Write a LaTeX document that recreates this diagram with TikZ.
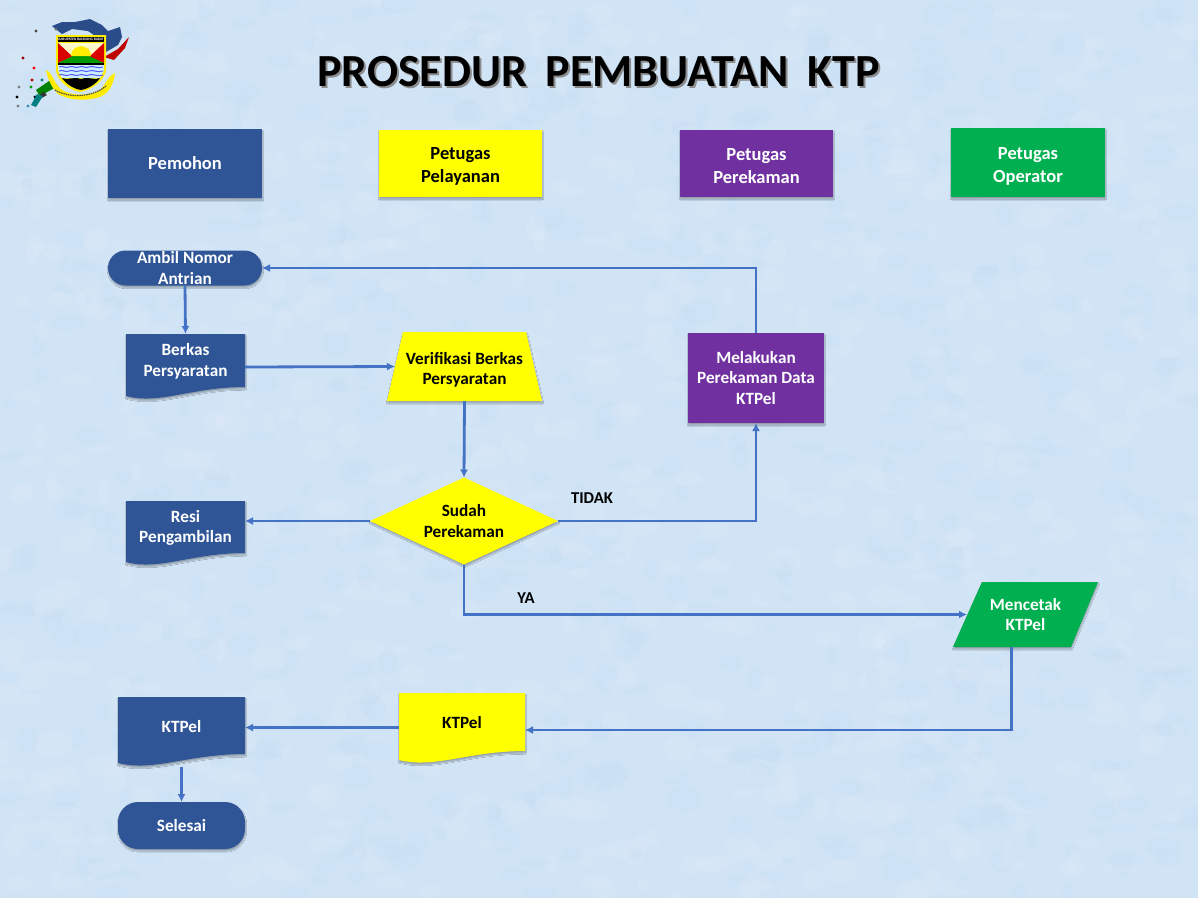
\documentclass[tikz,border=0pt]{standalone}
\usepackage{fontspec}
\setmainfont{Carlito}
\usetikzlibrary{arrows.meta,shadows.blur}
\usetikzlibrary{shapes.geometric,shapes.misc}
\definecolor{pageblue}{HTML}{D1E4F6}
\definecolor{boxblue}{HTML}{2F5597}
\definecolor{boxyellow}{HTML}{FFFF00}
\definecolor{boxpurple}{HTML}{7030A0}
\definecolor{boxgreen}{HTML}{00B050}
\definecolor{linkblue}{HTML}{4472C4}
\definecolor{mottle}{HTML}{B4D2F0}
\tikzset{
  softshadow/.style={blur shadow={shadow xshift=.5pt,shadow yshift=-2pt,shadow blur radius=1.2pt,shadow blur steps=5,shadow opacity=30}},
  label/.style={font=\fontsize{17.2}{20.5}\selectfont\bfseries,align=center,inner sep=0pt,outer sep=0pt},
  whitelabel/.style={label,text=white},
  blacklabel/.style={label,text=black},
  lanelabel/.style={font=\fontsize{18.5}{23}\selectfont\bfseries},
  flowbox/.style={rectangle,minimum width=#1,softshadow},
  blank/.style={inner sep=0pt,outer sep=0pt},
  link/.style={draw=linkblue,line width=2.8pt,-{Latex[length=8pt,width=8pt]}},
}
% wave-bottomed sheet: name, centre, width, height, fill, label style, text
\newcommand{\sheet}[7]{
  \node[blank,minimum width=#3pt,minimum height=#4pt] (#1) at (#2) {};
  \fill[#5,softshadow] (#1.north west) -- (#1.north east) -- ([yshift=13pt]#1.south east)
    .. controls ([xshift=-.45*#3 pt,yshift=13pt]#1.south east) and ([xshift=.28*#3 pt,yshift=-5pt]#1.south west)
    .. ([yshift=4pt]#1.south west) -- cycle;
  \node[#6] (#1text) at ([yshift=5.5pt]#1.center) {#7};
}
\newcommand{\lift}{\rule{0pt}{17pt}}
\begin{document}
\begin{tikzpicture}[x=1pt,y=-1pt]
\useasboundingbox (0,0) rectangle (1198,898);
\fill[pageblue] (0,0) rectangle (1198,898);
\pgfmathsetseed{41}
\foreach \i in {1,...,1300} {
  \pgfmathsetmacro{\bx}{rnd*1198}
  \pgfmathsetmacro{\by}{rnd*898}
  \pgfmathsetmacro{\bw}{5+rnd*14}
  \pgfmathsetmacro{\bh}{4+rnd*10}
  \pgfmathparse{rnd>.5 ? "white" : "mottle"}
  \fill[\pgfmathresult,opacity=.07] (\bx,\by) ellipse ({\bw} and {\bh});
}

% emblem
\fill[boxblue!90!black] (52,26) -- (62,22) -- (75,22) -- (90,19) -- (102,25) -- (108,31) -- (120,27) -- (122,37) -- (118,45) -- (106,52) -- (104,42) -- (88,31) -- (72,29) -- (62,34) -- cycle;
\fill[red!75!black] (129,37) -- (125,48) -- (114,60) -- (104,57) -- (118,49) -- cycle;
\foreach \ix/\iy/\ic in {36/31/black!70,56/29/black!60,23/58/red!60!black,34/68/red,32/80/red!70!black,19/87/gray,17/97/black,18/106/gray,42/80/teal,28/106/cyan!70!black,35/97/black,31/87/green!60!black} {
  \fill[\ic] (\ix,\iy) circle (1.7);
}
\fill[green!50!black] (36,90) -- (52,79) -- (58,86) -- (40,96) -- cycle;
\fill[black!80] (36,97) -- (44,92) -- (47,95) -- (38,100) -- cycle;
\fill[teal] (31,105) -- (37,94) -- (43,96) -- (36,107) -- cycle;
\fill[boxyellow!85!orange] (46,70) .. controls (52,72) and (54,84) .. (62,90) .. controls (72,96) and (90,96) .. (100,90) .. controls (106,84) and (108,76) .. (115,73) .. controls (114,84) and (108,96) .. (96,98) .. controls (84,101) and (68,100) .. (58,94) .. controls (52,88) and (48,80) .. (46,70) -- cycle;
\draw[black!70,line width=1.2pt,dash pattern=on 1.5pt off .8pt] (55,90) .. controls (68,98) and (92,98) .. (106,86);
\fill[boxyellow!85!orange] (56,35) -- (106,35) -- (106,70) .. controls (105,80) and (92,90) .. (80,92) .. controls (68,90) and (57,80) .. (56,70) -- cycle;
\fill[black] (58,37) rectangle (104,42);
\node[font=\fontsize{3.6}{4}\selectfont\bfseries,text=white,inner sep=0pt] (emblemtext) at (81,39.5) {KABUPATEN BANDUNG BARAT};
\fill[white!80!yellow] (58,43) rectangle (104,62);
\fill[red!85!black] (58,43) -- (58,63) -- (73,57) -- cycle;
\fill[red!85!black] (104,43) -- (104,63) -- (89,57) -- cycle;
\fill[green!60!black] (58,63) -- (73,56) -- (89,56) -- (104,63) -- cycle;
\fill[boxyellow!85!orange] (71,56) .. controls (71,50) and (75,47) .. (81,46) .. controls (87,47) and (91,50) .. (91,56) -- cycle;
\fill[black] (58,63) rectangle (104,65);
\fill[cyan!20] (58,65) -- (104,65) -- (104,70) .. controls (103,72) and (102,75) .. (100,78) -- (62,78) .. controls (60,75) and (59,72) .. (58,70) -- cycle;
\foreach \wy in {67,71,75} {
  \draw[blue!65,line width=1pt] (59,\wy) .. controls (63,\wy-2) and (65,\wy+2) .. (69,\wy) .. controls (73,\wy-2) and (75,\wy+2) .. (79,\wy) .. controls (83,\wy-2) and (85,\wy+2) .. (89,\wy) .. controls (93,\wy-2) and (95,\wy+2) .. (103,\wy);
}
\fill[black] (62,78) .. controls (68,81) and (72,76) .. (81,79) .. controls (90,76) and (94,81) .. (100,78) .. controls (96,84) and (88,89) .. (81,90) .. controls (74,89) and (66,84) .. (62,78) -- cycle;

% title
\node[font=\fontsize{46}{50}\selectfont\bfseries,text=black!45,inner sep=0pt] (titleshade) at (600.5,73.5) {PROSEDUR\hspace{8pt} PEMBUATAN\hspace{8pt} KTP};
\node[font=\fontsize{46}{50}\selectfont\bfseries,text=black,inner sep=0pt] (title) at (598.5,71.5) {PROSEDUR\hspace{8pt} PEMBUATAN\hspace{8pt} KTP};

% lanes
\node[whitelabel,lanelabel,flowbox=154pt,minimum height=69pt,fill=boxblue] (pemohon) at (185,163.5) {Pemohon};
\node[blacklabel,lanelabel,flowbox=163pt,minimum height=67pt,fill=boxyellow] (pelayanan) at (460.5,163.5) {\lift Petugas\\Pelayanan};
\node[whitelabel,lanelabel,flowbox=153pt,minimum height=67pt,fill=boxpurple] (perekaman) at (756.5,163.5) {\lift Petugas\\Perekaman};
\node[whitelabel,lanelabel,flowbox=154pt,minimum height=69pt,fill=boxgreen] (operator) at (1028,162.5) {\rule{0pt}{19pt}Petugas\\Operator};

% flow
\node[whitelabel,rounded rectangle,minimum width=154pt,minimum height=35pt,softshadow,fill=boxblue] (ambil) at (185,268) {Ambil Nomor\\Antrian};
\sheet{berkas}{185.5,367}{119}{66}{boxblue}{whitelabel}{Berkas\\Persyaratan}

\node[blank,minimum width=155pt,minimum height=69pt] (verifikasi) at (464.5,366.5) {};
\fill[boxyellow,softshadow] ([xshift=16pt]verifikasi.north west) -- ([xshift=-16pt]verifikasi.north east) -- (verifikasi.south east) -- (verifikasi.south west) -- cycle;
\node[blacklabel] (verifikasitext) at ([yshift=-3.5pt]verifikasi.center) {Verifikasi Berkas\\Persyaratan};

\node[whitelabel,flowbox=136pt,minimum height=90pt,fill=boxpurple] (melakukan) at (756,378) {Melakukan\\Perekaman Data\\KTPel};
\node[blacklabel,diamond,aspect=2.16,minimum width=188pt,minimum height=87pt,softshadow,fill=boxyellow] (sudah) at (464,521) {Sudah\\Perekaman};
\sheet{resi}{185.5,533.5}{119}{65}{boxblue}{whitelabel}{Resi\\Pengambilan}

\node[blank,minimum width=145pt,minimum height=65pt] (mencetak) at (1025.5,614.5) {};
\fill[boxgreen,softshadow] ([xshift=29pt]mencetak.north west) -- (mencetak.north east) -- ([xshift=-27pt]mencetak.south east) -- (mencetak.south west) -- cycle;
\node[whitelabel] (mencetaktext) at (mencetak.center) {Mencetak\\KTPel};

\sheet{ktpelkuning}{462,728.5}{126}{71}{boxyellow}{blacklabel}{KTPel}
\sheet{ktpelbiru}{181.5,732}{127}{70}{boxblue}{whitelabel}{KTPel}
\node[whitelabel,rounded corners=20pt,rectangle,minimum width=127pt,minimum height=47pt,softshadow,fill=boxblue] (selesai) at (181.5,825.5) {Selesai};

\node[blacklabel,font=\fontsize{16.6}{18}\selectfont\bfseries] (tidak) at (592,498.5) {TIDAK};
\node[blacklabel,font=\fontsize{16.6}{18}\selectfont\bfseries] (ya) at (526,598.5) {YA};

\draw[link] (ambil.south) -- (berkas.north);
\draw[link] (berkas.east) -- ([xshift=8pt]verifikasi.west);
\draw[link] (verifikasi.south) -- (sudah.north);
\draw[link] (sudah.west) -- (sudah.west -| resi.east);
\draw[link] (sudah.east) -| (melakukan.south);
\draw[link] (melakukan.north) |- (ambil.east);
\draw[link] (sudah.south) |- ([xshift=14pt]mencetak.west);
\draw[link] ([xshift=-14pt]mencetak.south) |- ([yshift=-1.5pt]ktpelkuning.east);
\draw[link] ([yshift=1pt]ktpelkuning.west) -- ([yshift=1pt]ktpelkuning.west -| ktpelbiru.east);
\draw[link] (ktpelbiru.south) -- (selesai.north);
\end{tikzpicture}
\end{document}
